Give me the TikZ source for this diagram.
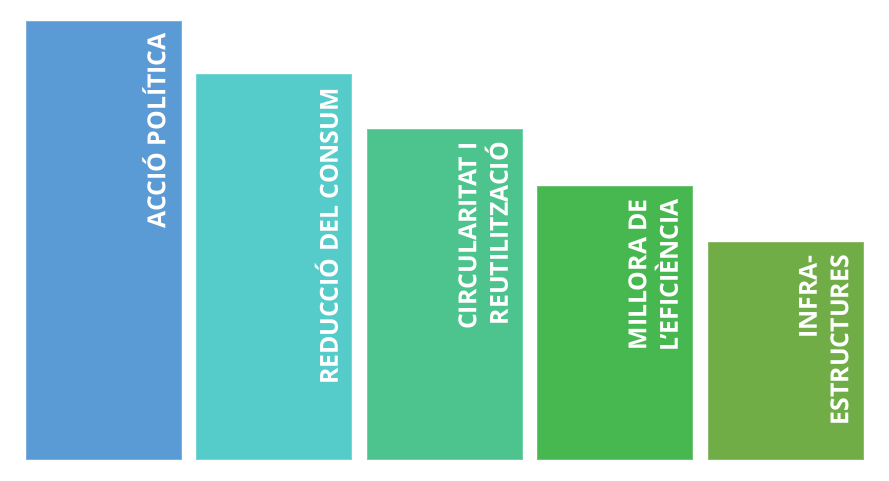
\documentclass[tikz,border=0pt]{standalone}
\usepackage{fontspec}
\setmainfont{Open Sans}
\definecolor{cA}{HTML}{5B9BD5}
\definecolor{cB}{HTML}{55CBCA}
\definecolor{cC}{HTML}{4DC48D}
\definecolor{cD}{HTML}{47B84F}
\definecolor{cE}{HTML}{70AD47}
\begin{document}
\begin{tikzpicture}[x=1pt,y=1pt,
  bar/.style={draw=#1!80!white,line width=0.8pt,fill=#1},
  lbl/.style={rotate=90,anchor=south east,inner sep=0pt,text depth=0pt,
    align=right,text=white,font=\fontsize{24.8}{31.5}\selectfont\bfseries}]
\useasboundingbox (0,0) rectangle (889,480);
\fill[white] (0,0) rectangle (889,480);
% bars (image y -> 480 - y)
\path[bar=cA] (26,21) rectangle (181,459);
\path[bar=cB] (196.5,21) rectangle (351.5,406);
\path[bar=cC] (367,21) rectangle (522,350.5);
\path[bar=cD] (537.5,21) rectangle (692.5,294);
\path[bar=cE] (708,21) rectangle (863,238);
\node[lbl] (tA) at (165.5,447) {ACCIÓ POLÍTICA};
\node[lbl] (tB) at (338,392) {REDUCCIÓ DEL CONSUM};
\node[lbl] (tC) at (508,338) {CIRCULARITAT I\\REUTILITZACIÓ};
\node[lbl] (tD) at (678,281) {MILLORA DE\\L’EFICIÈNCIA};
\node[lbl] (tE) at (848.5,225) {INFRA-\\ESTRUCTURES};
\end{tikzpicture}
\end{document}
